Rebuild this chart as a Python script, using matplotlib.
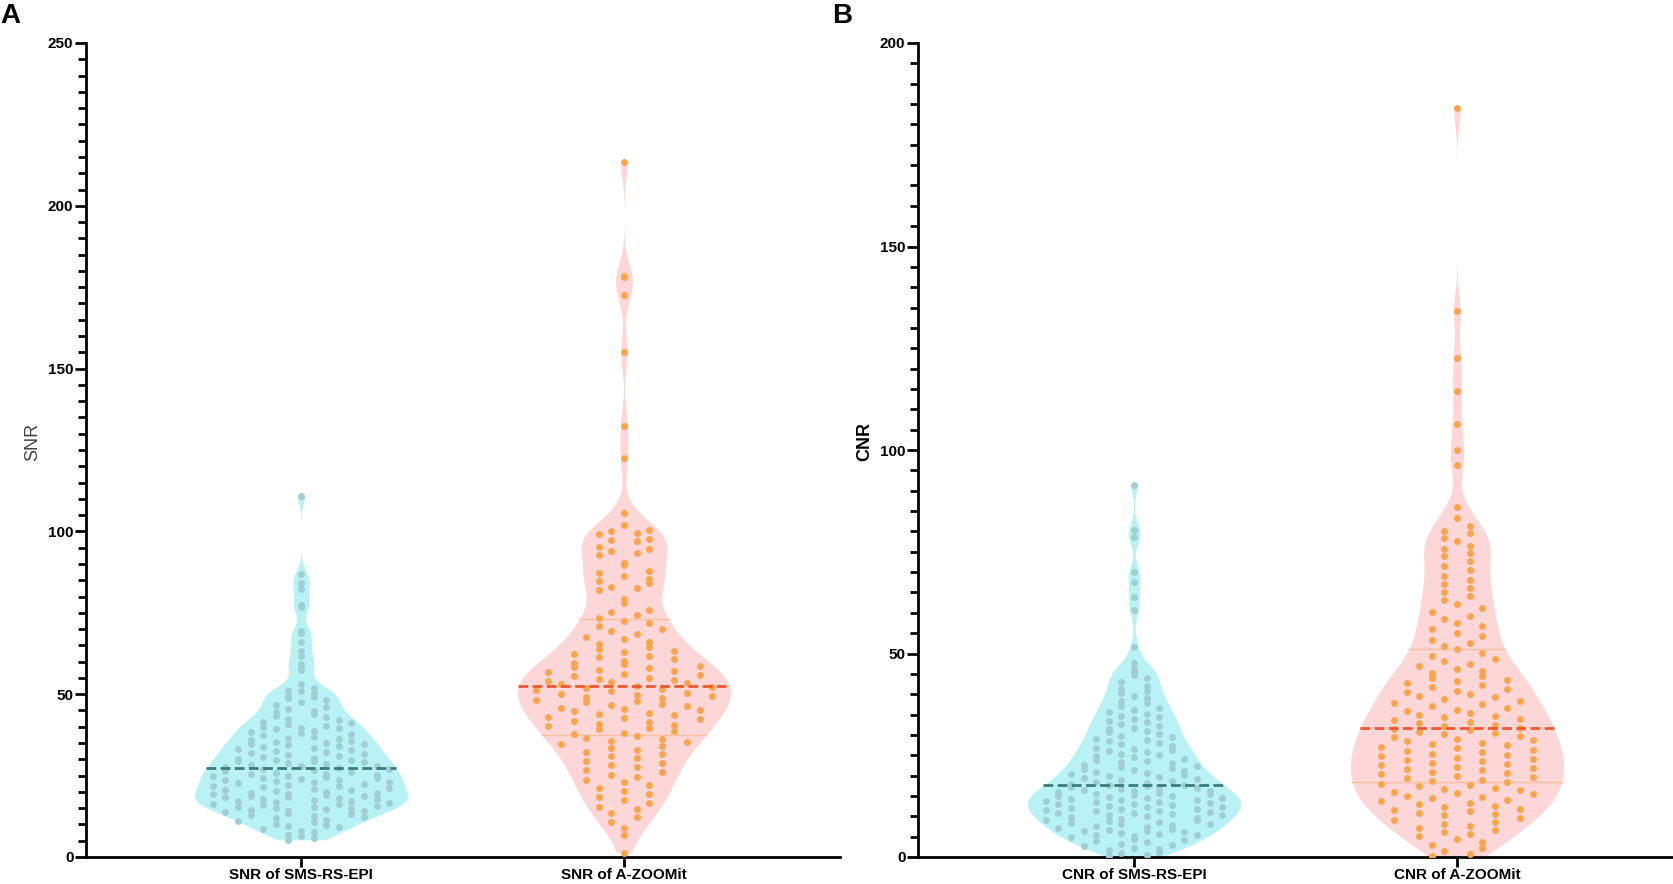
import numpy as np
import matplotlib
matplotlib.use("Agg")
import matplotlib.pyplot as plt
from matplotlib import mlab
from matplotlib.ticker import MultipleLocator

plt.rcParams['font.family'] = ['Liberation Sans', 'DejaVu Sans']

snr_labels = ["SNR of SMS-RS-EPI", "SNR of A-ZOOMit"]
cnr_labels = ["CNR of SMS-RS-EPI", "CNR of A-ZOOMit"]

# ---- SNR, SMS-RS-EPI (panel A, cyan)
snr_sms = [
    5.3, 5.7, 6.4, 6.9, 7.6, 8.0, 8.6, 9.1, 9.5, 9.9,
    10.2, 10.7, 11.1, 11.4, 11.9, 12.3, 12.5, 12.8, 13.2, 13.5, 13.7, 14.0, 14.2, 14.5, 14.7, 14.9,
    15.1, 15.3, 15.5, 15.8, 16.0, 16.2, 16.4, 16.6, 16.9, 17.1, 17.3, 17.5, 17.7, 17.9, 18.1, 18.3,
    18.5, 18.6, 18.8, 19.0, 19.2, 19.4, 19.6, 19.8,
    20.0, 20.3, 20.5, 20.7, 21.0, 21.2, 21.5, 21.7, 21.9, 22.2, 22.4, 22.6, 22.9, 23.1, 23.3, 23.5,
    23.8, 24.0, 24.2, 24.4, 24.6, 24.8, 24.9,
    25.1, 25.4, 25.6, 25.9, 26.1, 26.4, 26.6, 26.9, 27.1, 27.4, 27.6, 27.9, 28.1, 28.4, 28.7, 28.9,
    29.2, 29.4, 29.6, 29.8, 29.9,
    30.2, 30.5, 30.8, 31.1, 31.4, 31.7, 32.0, 32.3, 32.6, 32.9, 33.2, 33.5, 33.8, 34.1, 34.3, 34.6,
    34.8, 34.9,
    35.2, 35.6, 35.9, 36.3, 36.7, 37.0, 37.4, 37.8, 38.1, 38.5, 38.8, 39.2, 39.5, 39.7, 39.9,
    40.3, 40.7, 41.2, 41.6, 42.0, 42.5, 43.0, 43.4, 43.9, 44.4, 44.8,
    45.4, 46.1, 46.8, 47.5, 48.1, 48.8, 49.1, 49.6,
    50.3, 50.9, 51.1, 51.8, 53.2,
    57.4, 57.8, 59.3, 61.7, 63.4, 66.1, 68.8, 69.3, 76.9, 77.4, 82.2, 84.2, 87.0, 111.0,
]

# ---- SNR, A-ZOOMit (panel A, pink)
snr_zoom = [
    1.3, 6.8, 8.9, 10.8, 12.2, 13.4, 14.6,
    15.5, 16.7, 17.6, 18.5, 19.4, 20.3, 21.2, 22.0, 22.9, 23.7, 24.5,
    25.3, 26.0, 26.8, 27.5, 28.2, 28.9, 29.6,
    30.3, 30.9, 31.5, 32.2, 32.8, 33.5, 34.1, 34.7,
    35.2, 35.7, 36.2, 36.7, 37.2, 37.7, 38.2, 38.7, 39.2, 39.7,
    40.2, 40.6, 41.0, 41.5, 41.9, 42.3, 42.7, 43.1, 43.5, 43.9, 44.3, 44.7,
    45.1, 45.5, 45.9, 46.3, 46.7, 47.1, 47.5, 47.9, 48.3, 48.7, 49.1, 49.5, 49.8,
    50.2, 50.5, 50.9, 51.2, 51.6, 51.9, 52.3, 52.6, 53.0, 53.3, 53.7, 54.0, 54.4, 54.7,
    55.1, 55.5, 55.9, 56.3, 56.7, 57.1, 57.5, 58.0, 58.4, 58.8, 59.3, 59.7,
    60.2, 60.7, 61.3, 61.8, 62.3, 62.9, 63.4, 64.0, 64.6,
    65.3, 66.1, 66.9, 67.7, 68.5, 69.3,
    70.1, 70.9, 71.8, 72.6, 73.5, 74.3,
    75.2, 75.9, 77.9, 79.2,
    82.0, 82.5, 83.0, 84.2, 84.8,
    85.4, 86.3, 87.1, 87.9, 89.6,
    90.4, 92.8, 93.4, 94.0, 94.6,
    95.3, 97.0, 97.4, 97.8, 99.2, 99.5,
    100.1, 100.5, 101.9, 105.6,
    122.5, 132.5, 155.0, 172.5, 178.0, 178.5, 213.5,
]

# ---- CNR, SMS-RS-EPI (panel B, cyan)
cnr_sms = [
    0.3, 0.6, 0.9, 1.3, 1.6, 2.0, 2.3,
    2.7, 3.0, 3.3, 3.6, 3.9, 4.2, 4.5, 4.8,
    5.1, 5.3, 5.5, 5.7, 5.9, 6.1, 6.3, 6.5, 6.7, 6.9, 7.1, 7.3,
    7.6, 7.8, 8.0, 8.2, 8.4, 8.6, 8.8, 9.0, 9.2, 9.4, 9.6, 9.8,
    10.0, 10.2, 10.3, 10.5, 10.7, 10.8, 11.0, 11.2, 11.3, 11.5, 11.7, 11.8, 12.0, 12.2, 12.4,
    12.5, 12.7, 12.9, 13.0, 13.2, 13.4, 13.5, 13.7, 13.9, 14.0, 14.2, 14.4, 14.5, 14.7, 14.9,
    15.0, 15.2, 15.4, 15.5, 15.7, 15.9, 16.1, 16.2, 16.4, 16.6, 16.8, 17.0, 17.2, 17.4,
    17.6, 17.8, 18.0, 18.3, 18.5, 18.7, 19.0, 19.2, 19.4, 19.6, 19.9,
    20.1, 20.4, 20.6, 20.9, 21.1, 21.4, 21.6, 21.9, 22.1, 22.4,
    22.7, 23.0, 23.3, 23.6, 23.9, 24.2, 24.5, 24.8,
    25.1, 25.4, 25.7, 26.0, 26.3, 26.6, 26.9, 27.2,
    27.7, 28.0, 28.4, 28.7, 29.1, 29.4, 29.8,
    30.2, 30.6, 31.0, 31.4, 31.8, 32.2,
    32.7, 33.1, 33.5, 33.9, 34.3, 34.7,
    35.2, 35.7, 36.2, 36.7, 37.2,
    37.8, 38.4, 39.0, 39.6,
    40.2, 40.9, 41.4, 42.1,
    42.9, 43.9, 44.6, 45.5, 46.0, 46.1, 47.6, 51.7,
    60.6, 63.8, 67.6, 70.0, 78.6, 80.4, 91.5,
]

# ---- CNR, A-ZOOMit (panel B, pink)
cnr_zoom = [
    0.3, 0.8, 1.5, 2.2, 3.0, 3.7, 4.4,
    5.2, 5.7, 6.2, 6.7, 7.2, 7.7, 8.2, 8.7, 9.2, 9.7,
    10.2, 10.5, 10.9, 11.2, 11.6, 11.9, 12.3, 12.6, 13.0, 13.3, 13.7, 14.0, 14.4, 14.7,
    15.1, 15.4, 15.7, 16.0, 16.4, 16.7, 17.0, 17.4, 17.7, 18.0, 18.4, 18.7, 19.0, 19.4, 19.7,
    20.0, 20.3, 20.6, 20.9, 21.3, 21.6, 21.9, 22.2, 22.5, 22.8, 23.1, 23.5, 23.8, 24.1, 24.4, 24.7,
    25.0, 25.4, 25.7, 26.0, 26.4, 26.7, 27.0, 27.4, 27.7, 28.0, 28.4, 28.7, 29.0, 29.4, 29.7,
    30.1, 30.4, 30.8, 31.1, 31.5, 31.8, 32.2, 32.5, 32.9, 33.2, 33.6, 33.9, 34.3, 34.6,
    35.0, 35.4, 35.8, 36.2, 36.6, 37.0, 37.5, 37.9, 38.3, 38.7, 39.2, 39.6,
    40.0, 40.5, 40.9, 41.4, 41.8, 42.3, 42.7, 43.2, 43.6, 44.1, 44.5,
    45.1, 45.7, 46.3, 46.9, 47.5, 48.1, 48.7, 49.4,
    50.2, 51.0, 51.8, 52.6, 53.4, 54.2,
    55.1, 55.9, 56.8, 57.6, 58.5, 59.3,
    60.2, 61.2, 62.2, 63.2, 64.2,
    65.1, 66.1, 67.1, 68.1, 69.1,
    70.4, 71.6, 72.8, 73.9, 74.8,
    75.6, 76.5, 77.6, 78.5, 79.6,
    80.2, 81.4, 83.4, 86.0,
    96.2, 100.0, 106.4, 114.6, 122.5, 134.2, 184.0,
]

FILL = ["#b9f2f5", "#fdd6d7"]
DOT = ["#9fcfd3", "#f8a54d"]
MEDIAN = ["#3b7a7e", "#f0572f"]
QUART = [None, "#f8bf9a"]

HALF_W = 0.33     # max half width of each violin, in category units
COL_PX = 12.6     # dot column spacing in pixels
ROW_PX = 9.0      # dot row height in pixels
EDGE_PX = 9.0     # keep dot centres this far inside the violin edge
BW = 0.15


def draw_violin(ax, data, pos, idx):
    data = np.asarray(data, dtype=float)
    kde = mlab.GaussianKDE(data, BW)
    coords = np.linspace(data.min(), data.max(), 500)
    dens = kde.evaluate(coords)
    half = dens / dens.max() * HALF_W
    ax.fill_betweenx(coords, pos - half, pos + half, color=FILL[idx], lw=0, zorder=1)

    # pixel scale of this axes
    fig = ax.figure
    bbox = ax.get_window_extent(fig.canvas.get_renderer())
    y0, y1 = ax.get_ylim()
    x0, x1 = ax.get_xlim()
    ypx = bbox.height / (y1 - y0)
    xpx = bbox.width / (x1 - x0)
    row_h = ROW_PX / ypx
    col_w = COL_PX / xpx
    edge = EDGE_PX / xpx

    # dots binned in rows and put on a fixed grid of columns inside the violin
    vals = np.sort(data)
    bins = np.floor((vals - vals.min()) / row_h).astype(int)
    xs, ys = [], []
    for b in np.unique(bins):
        row = vals[bins == b]
        room = max(np.interp(row.mean(), coords, half) - edge, 0)
        m = int(room / col_w)            # slots -m..m
        cap = 2 * m + 1
        n_sub = int(np.ceil(len(row) / cap))
        for sub in np.array_split(row, n_sub):
            k = len(sub)
            span = min(cap, 2 * k - 1)
            if span % 2 == 0:
                span -= 1
            if k == 1:
                slots = np.array([0.0])
            elif k > span:
                slots = np.arange(k) - (k - 1) / 2.0
            else:
                slots = np.round(np.linspace(0, span - 1, k)) - (span - 1) / 2.0
            order = np.argsort((np.arange(k) * 0.618) % 1.0)
            for v, s in zip(sub, slots[order]):
                xs.append(pos + s * col_w)
                ys.append(v)
    ax.scatter(xs, ys, s=25, color=DOT[idx], lw=0, zorder=3)

    q1, med, q3 = np.percentile(data, [25, 50, 75])
    if QUART[idx]:
        for q in (q1, q3):
            w = np.interp(q, coords, half)
            ax.plot([pos - w, pos + w], [q, q], color=QUART[idx], lw=1.0, zorder=2)
    w = np.interp(med, coords, half)
    ax.plot([pos - w, pos + w], [med, med], color=MEDIAN[idx], lw=2.0,
            linestyle=(0, (3.5, 1.6)), zorder=4)


def style_axes(ax, labels, ymax, ylabel, ylabel_bold):
    ax.set_ylim(0, ymax)
    ax.set_xticks([0, 1])
    ax.set_xticklabels(labels, fontsize=11, fontweight="bold")
    ax.yaxis.set_major_locator(MultipleLocator(50))
    ax.yaxis.set_minor_locator(MultipleLocator(5))
    for lab in ax.get_yticklabels():
        lab.set_fontweight("bold")
        lab.set_fontsize(11)
    for side in ("top", "right"):
        ax.spines[side].set_visible(False)
    for side in ("left", "bottom"):
        ax.spines[side].set_linewidth(2.0)
    ax.tick_params(axis="y", which="major", length=8, width=2.0, pad=1)
    ax.tick_params(axis="y", which="minor", length=5.5, width=2.0)
    ax.tick_params(axis="x", which="major", length=7, width=2.0, pad=1)
    ax.set_ylabel(ylabel, fontsize=13,
                  fontweight="bold" if ylabel_bold else "normal",
                  color="black" if ylabel_bold else "#444444")
    ax.yaxis.set_label_coords(-0.06, 0.51)


fig = plt.figure(figsize=(16.74, 8.84), dpi=100)
ax_a = fig.add_axes([86 / 1674, 27 / 884, 754 / 1674, 814 / 884])
ax_b = fig.add_axes([918 / 1674, 27 / 884, 754 / 1674, 814 / 884])

ax_a.set_xlim(-0.666, 1.669)
ax_b.set_xlim(-0.669, 1.666)
style_axes(ax_a, snr_labels, 250, "SNR", False)
style_axes(ax_b, cnr_labels, 200, "CNR", True)

draw_violin(ax_a, snr_sms, 0, 0)
draw_violin(ax_a, snr_zoom, 1, 1)
draw_violin(ax_b, cnr_sms, 0, 0)
draw_violin(ax_b, cnr_zoom, 1, 1)

fig.text(0.0, 1 - 3 / 884, "A", fontsize=20, fontweight="bold", va="top", ha="left")
fig.text(832 / 1674, 1 - 3 / 884, "B", fontsize=20, fontweight="bold", va="top", ha="left")

fig.savefig("out.png", dpi=100)
